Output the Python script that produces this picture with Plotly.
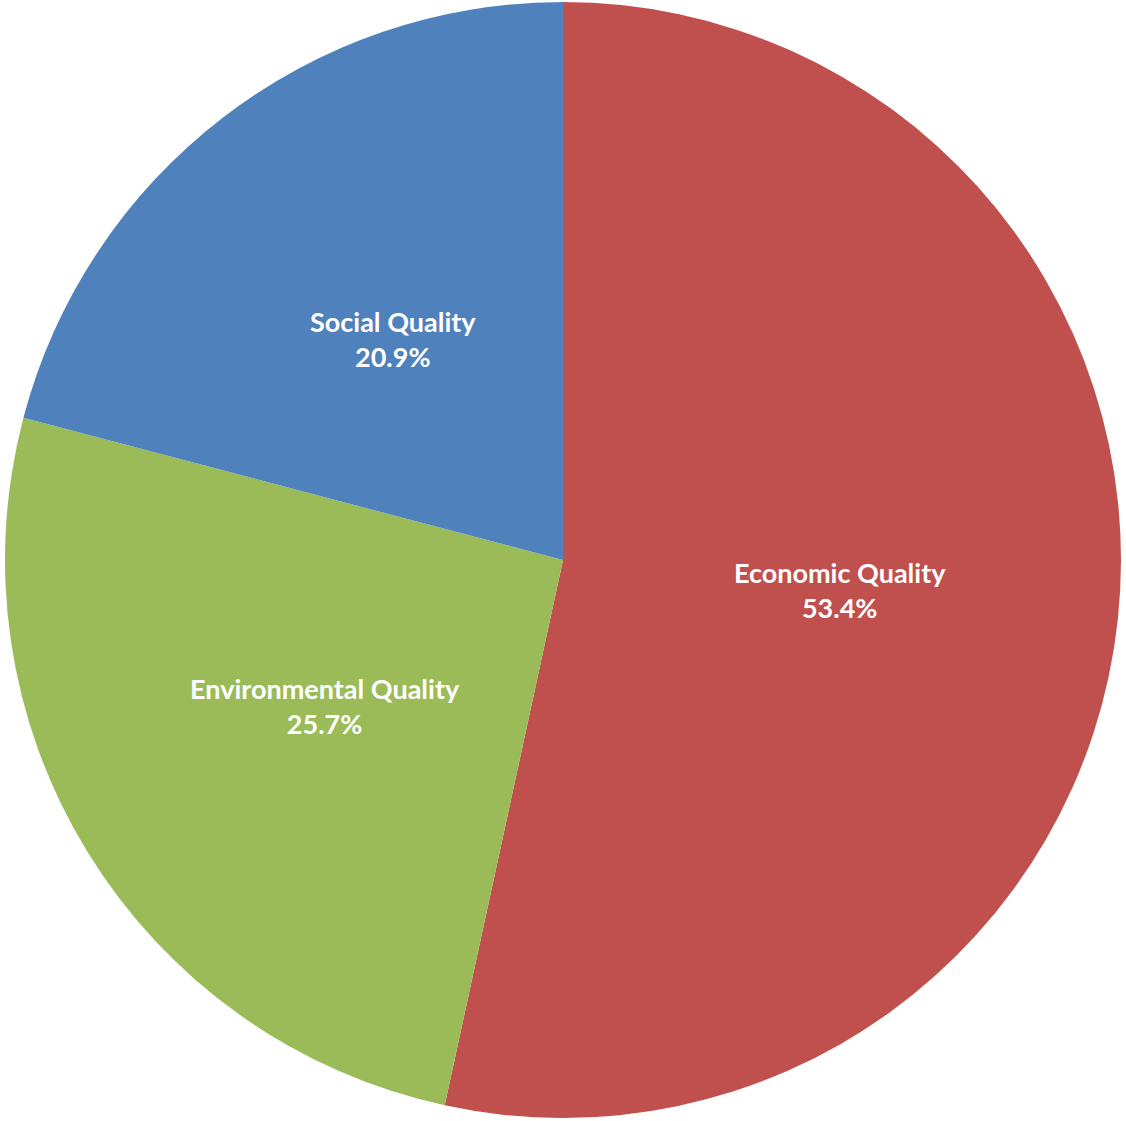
import math
import plotly.graph_objects as go

categories = ["Economic Quality", "Environmental Quality", "Social Quality"]
values = [53.4, 25.7, 20.9]
colors = ["#C0504D", "#9BBB59", "#4F81BD"]

W, H = 1126, 1121
ml, mr, mt, mb = 5, 5, 2, 3

fig = go.Figure(go.Pie(
    labels=categories,
    values=values,
    sort=False,
    direction="clockwise",
    rotation=0,
    marker=dict(colors=colors, line=dict(width=0)),
    textinfo="none",
    hoverinfo="label+percent",
    showlegend=False,
))

# Excel-style data labels placed at half radius along each slice's mid-angle
total = sum(values)
cum = 0.0
annotations = []
for cat, v in zip(categories, values):
    mid = (cum + v / 2) / total * 2 * math.pi
    cum += v
    x = 0.5 + 0.25 * math.sin(mid)
    y = 0.5 + 0.25 * math.cos(mid)
    annotations.append(dict(
        x=x, y=y, xref="paper", yref="paper",
        text=f"<b>{cat}</b><br><b>{v / total * 100:.1f}%</b>",
        showarrow=False, xanchor="center", yanchor="middle",
        font=dict(family="Lato", size=27, color="white"),
        align="center",
    ))

fig.update_layout(
    width=W, height=H,
    margin=dict(l=ml, r=mr, t=mt, b=mb),
    paper_bgcolor="white",
    plot_bgcolor="white",
    annotations=annotations,
)

fig.write_html(
    "out.html",
    config={"displayModeBar": False},
    post_script="document.body.style.margin='0';document.body.style.overflow='hidden';",
)
